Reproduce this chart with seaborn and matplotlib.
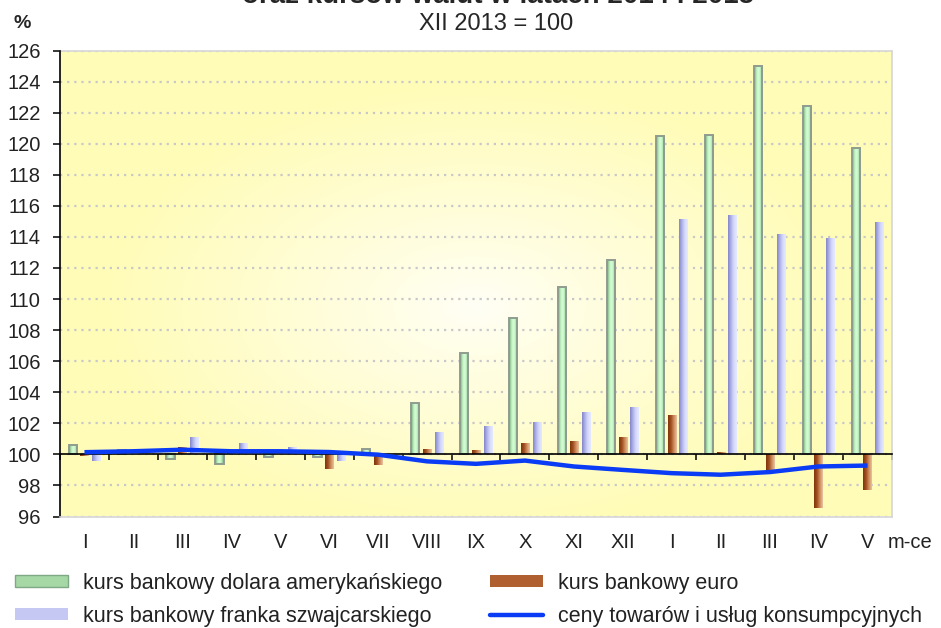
import matplotlib
matplotlib.use("Agg")
import matplotlib.pyplot as plt
from matplotlib.colors import LinearSegmentedColormap, to_rgb
from matplotlib.patches import Patch
from matplotlib.lines import Line2D
import numpy as np
import pandas as pd
import seaborn as sns

MONTHS = ["I", "II", "III", "IV", "V", "VI", "VII", "VIII", "IX", "X", "XI", "XII",
          "I", "II", "III", "IV", "V"]

USD = [100.6, 100.3, 99.7, 99.35, 99.8, 99.8, 100.35, 103.3, 106.5, 108.8, 110.8, 112.5,
       120.5, 120.55, 125.0, 122.45, 119.75]
EUR = [99.9, 100.05, 100.45, 100.1, 100.05, 99.07, 99.33, 100.36, 100.3, 100.72, 100.87, 101.11,
       102.53, 100.14, 98.96, 96.54, 97.68]
CHF = [99.56, 100.15, 101.1, 100.7, 100.45, 99.56, 99.9, 101.43, 101.8, 102.1, 102.7, 103.04,
       115.15, 115.4, 114.16, 113.9, 114.98]
CPI = [100.14, 100.2, 100.3, 100.2, 100.2, 100.15, 99.98, 99.55, 99.39, 99.6, 99.22, 99.0,
       98.79, 98.69, 98.86, 99.22, 99.28]

SERIES = ["kurs bankowy dolara amerykańskiego", "kurs bankowy euro",
          "kurs bankowy franka szwajcarskiego"]
CPI_LABEL = "ceny towarów i usług konsumpcyjnych"
BASE = 100

sns.set_style("white")
plt.rcParams["font.family"] = ["Liberation Sans", "DejaVu Sans"]

rows = []
for name, vals in zip(SERIES, [USD, EUR, CHF]):
    for i, v in enumerate(vals):
        rows.append({"pos": i, "series": name, "dev": v - BASE})
df = pd.DataFrame(rows)

fig = plt.figure(figsize=(9.41, 6.28), dpi=100)
ax = fig.add_axes([60 / 941, 1 - 516.5 / 628, (892 - 60) / 941, (516.5 - 50.5) / 628])

# yellow background, lighter in the middle
gy, gx = np.mgrid[0:1:200j, 0:1:300j]
dist = np.sqrt(((gx - 0.5) / 0.75) ** 2 + ((gy - 0.45) / 0.8) ** 2)
t = np.clip(dist / 0.6, 0, 1)[..., None] ** 0.9
c_in = np.array(to_rgb("#fffff6"))
c_out = np.array(to_rgb("#fffcb8"))
ax.imshow(c_in * (1 - t) + c_out * t, extent=[0, 1, 0, 1], transform=ax.transAxes,
          aspect="auto", zorder=-2, origin="lower")

palette = {SERIES[0]: "#b0e0b0", SERIES[1]: "#b06030", SERIES[2]: "#c4c8f2"}
sns.barplot(data=df, x="pos", y="dev", hue="series", hue_order=SERIES, palette=palette,
            width=0.72, gap=0.3, errorbar=None, legend=False, bottom=BASE, ax=ax,
            linewidth=0, zorder=2)

gradients = {
    SERIES[0]: ["#6f9a74", "#9fd4a0", "#c6f6c6", "#d6fcd6", "#c6f6c6", "#9fd4a0", "#6f9a74"],
    SERIES[1]: ["#82340a", "#a04e20", "#cf8c5c", "#eac4a2"],
    SERIES[2]: ["#8585c8", "#aeb2e8", "#d6dafa", "#e6eaff"],
}
edges = {SERIES[0]: "#8f9c8f", SERIES[1]: "none", SERIES[2]: "none"}
for cont, name in zip(ax.containers, SERIES):
    cmap = LinearSegmentedColormap.from_list(name, gradients[name])
    for bar in cont:
        x0, w = bar.get_x(), bar.get_width()
        y0, h = bar.get_y(), bar.get_height()
        lo, hi = min(y0, y0 + h), max(y0, y0 + h)
        im = ax.imshow(np.linspace(0, 1, 64)[None, :], cmap=cmap, aspect="auto",
                       extent=[x0, x0 + w, lo, hi], zorder=2.1, interpolation="bilinear")
        im.set_clip_path(bar)
        if edges[name] != "none":
            bar.set_edgecolor(edges[name])
            bar.set_linewidth(1.4)
            bar.set_zorder(2.2)
            bar.set_facecolor("none")

sns.lineplot(x=np.arange(len(CPI)), y=CPI, color="#0a3cf5", linewidth=3.2, ax=ax,
             zorder=5, solid_capstyle="butt")

ax.set_xlim(-0.5, len(MONTHS) - 0.5)
ax.set_ylim(96, 126)
ax.set_yticks(np.arange(96, 127, 2))
ax.set_axisbelow(True)
ax.yaxis.grid(True, linestyle=(0, (1, 2.2)), color="#c8c8c8", linewidth=1.6)
ax.xaxis.grid(False)

ax.set_xticks(np.arange(len(MONTHS)), labels=MONTHS)
ax.set_xticks(np.arange(-0.5, len(MONTHS)), minor=True)
ax.tick_params(axis="x", which="major", length=0, pad=12, labelsize=14.5,
               labelcolor="#222222", top=False, bottom=False)
ax.tick_params(axis="x", which="minor", top=True, bottom=False, direction="in",
               length=4.5, width=1.1, color="black")
ax.tick_params(axis="y", which="major", left=True, length=5, width=1.1, pad=9,
               labelsize=14.5, color="black", labelcolor="#222222")
ax.set_xlabel("")
ax.set_ylabel("")

ax.spines["top"].set_position(("data", BASE))
ax.spines["top"].set_color("black")
ax.spines["top"].set_linewidth(1.2)
ax.spines["top"].set_zorder(3)
ax.spines["left"].set_color("black")
ax.spines["left"].set_linewidth(1.2)
for s in ["right", "bottom"]:
    ax.spines[s].set_color("#d6d6d6")
    ax.spines[s].set_linewidth(1.2)
ax.plot([0, 1], [1, 1], transform=ax.transAxes, color="#d6d6d6", lw=1.2,
        clip_on=False, zorder=1)

fig.text(888 / 941, 1 - 543 / 628, "m-ce", ha="left", va="center", fontsize=14.5,
         color="#222222")
fig.text(14 / 941, 1 - 23 / 628, "%", ha="left", va="center", fontsize=14,
         fontweight="bold")
fig.text(496 / 941, 1 - 23.5 / 628, "XII 2013 = 100", ha="center", va="center",
         fontsize=17)
fig.text(498 / 941, 1 - 3 / 628, "oraz kursów walut w latach 2014 i 2015",
         ha="center", va="baseline", fontsize=20, fontweight="bold")

handles = [
    Patch(facecolor="#a6d8a6", edgecolor="#7fa884", linewidth=1),
    Patch(facecolor="#c4c8f2", edgecolor="none"),
    Patch(facecolor="#b06030", edgecolor="none"),
    Line2D([0], [0], color="#0a3cf5", linewidth=3.2),
]
labels = [SERIES[0], SERIES[2], SERIES[1], CPI_LABEL]
fig.legend(handles, labels, ncol=2, loc="upper left", bbox_to_anchor=(15 / 941, 1 - 573 / 628),
           frameon=False, fontsize=15.5, handlelength=2.45, handleheight=0.5,
           handletextpad=0.72, columnspacing=2.2, labelspacing=0.55, borderpad=0,
           borderaxespad=0, labelcolor="#222222")

fig.savefig("out.png", dpi=100)
